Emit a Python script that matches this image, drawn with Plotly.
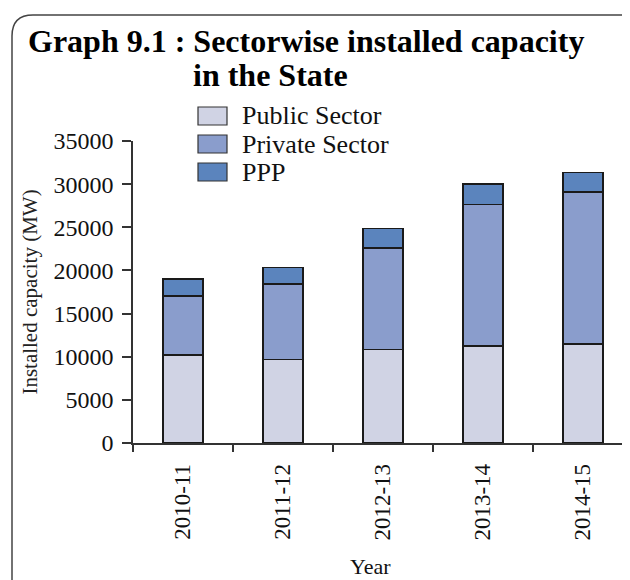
import plotly.graph_objects as go

# ── Data ────────────────────────────────────────────────────────────────────
years = ["2010-11", "2011-12", "2012-13", "2013-14", "2014-15"]
public_sector = [10180, 9670, 10830, 11250, 11480]
private_sector = [6890, 8790, 11760, 16390, 17590]
ppp = [1920, 1900, 2280, 2390, 2270]

series_names = ["Public Sector", "Private Sector", "PPP"]
series_values = [public_sector, private_sector, ppp]
series_colors = ["#D0D3E4", "#8A9DCC", "#5B84BD"]

FONT = "Liberation Serif, Times New Roman, serif"
# page body has an 8px margin, so the figure is sized to fit the window
OFF = 8
W, H = 630 - OFF, 580 - OFF
L, R, T, B = 125, 0, 133, 137

# screen pixel -> paper helpers for the decoration (frame, title, legend)
def px(x):
    return (x - OFF - L) / (W - L - R)

def py(y):
    return (H - B - (y - OFF)) / (H - T - B)


fig = go.Figure()

for name, vals, color in zip(series_names, series_values, series_colors):
    fig.add_trace(
        go.Bar(
            x=years,
            y=vals,
            name=name,
            marker=dict(color=color, line=dict(color="#1A1A1A", width=1.6)),
            showlegend=False,
        )
    )

# ── Layout ──────────────────────────────────────────────────────────────────
fig.update_layout(
    barmode="stack",
    bargap=0.6,
    width=W,
    height=H,
    margin=dict(l=L, r=R, t=T, b=B),
    plot_bgcolor="#FFFFFF",
    paper_bgcolor="#FFFFFF",
    font=dict(family=FONT, color="#111111"),
    xaxis=dict(
        type="category",
        range=[-0.5, 4.47],
        showline=True,
        linecolor="#333333",
        linewidth=1.5,
        ticks="outside",
        tickson="boundaries",
        ticklen=7,
        tickcolor="#333333",
        tickwidth=1.5,
        tickangle=-90,
        tickfont=dict(size=23, family=FONT, color="#111111"),
        ticklabelstandoff=10,
        showgrid=False,
        zeroline=False,
    ),
    yaxis=dict(
        range=[0, 35000],
        tickvals=[0, 5000, 10000, 15000, 20000, 25000, 30000, 35000],
        tickformat="d",
        showline=True,
        linecolor="#333333",
        linewidth=1.5,
        ticks="outside",
        ticklen=9,
        tickcolor="#333333",
        tickwidth=1.5,
        tickfont=dict(size=24, family=FONT, color="#111111"),
        ticklabelstandoff=4,
        showgrid=False,
        zeroline=False,
        title=dict(
            text="Installed capacity (MW)",
            font=dict(size=21, family=FONT, color="#222222"),
            standoff=10,
        ),
    ),
)

# ── Rounded frame (top-left corner of the boxed figure) ─────────────────────
frame = (
    f"M {px(12)},{py(620)} L {px(12)},{py(36)} "
    f"Q {px(12)},{py(15)} {px(33)},{py(15)} L {px(660)},{py(15)}"
)
fig.add_shape(
    type="path", path=frame, xref="paper", yref="paper",
    line=dict(color="#444444", width=1.5), layer="above",
)

# ── Title ───────────────────────────────────────────────────────────────────
fig.add_annotation(
    text="<b>Graph 9.1 : Sectorwise installed capacity</b>",
    xref="paper", yref="paper", x=px(26), y=py(41),
    xanchor="left", yanchor="middle", showarrow=False,
    font=dict(size=32, family=FONT, color="#000000"),
)
fig.add_annotation(
    text="<b>in the State</b>",
    xref="paper", yref="paper", x=px(191), y=py(75),
    xanchor="left", yanchor="middle", showarrow=False,
    font=dict(size=32, family=FONT, color="#000000"),
)

# ── Legend (boxed swatches) ─────────────────────────────────────────────────
for i, (name, color) in enumerate(zip(series_names, series_colors)):
    cy = 116 + i * 28
    fig.add_shape(
        type="rect", xref="paper", yref="paper",
        x0=px(198), x1=px(227), y0=py(cy - 9), y1=py(cy + 9),
        fillcolor=color, line=dict(color="#333333", width=1.2),
    )
    fig.add_annotation(
        text=name, xref="paper", yref="paper", x=px(240), y=py(cy),
        xanchor="left", yanchor="middle", showarrow=False,
        font=dict(size=26, family=FONT, color="#111111"),
    )

# ── X axis title ────────────────────────────────────────────────────────────
fig.add_annotation(
    text="Year", xref="paper", yref="paper", x=px(370), y=py(566),
    xanchor="center", yanchor="middle", showarrow=False,
    font=dict(size=22, family=FONT, color="#111111"),
)

fig.write_html("out.html")
